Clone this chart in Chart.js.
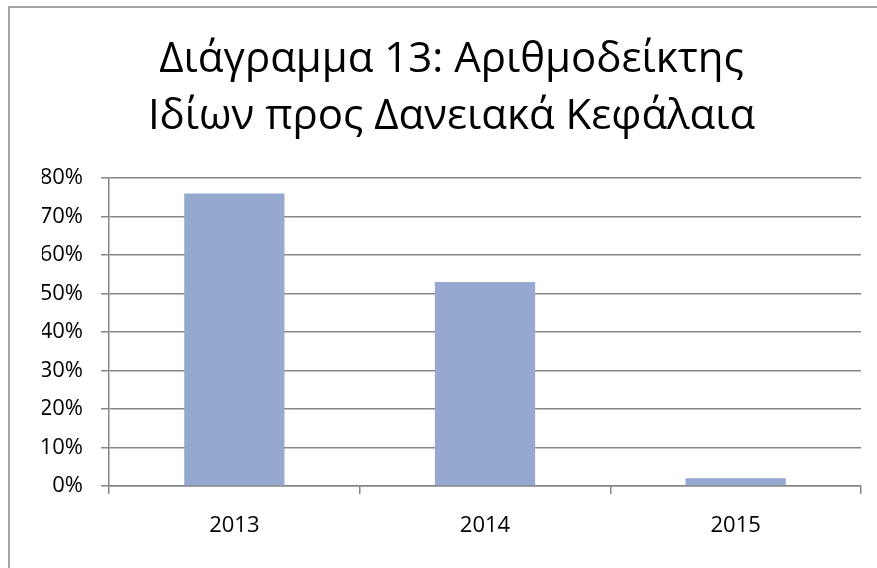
<!DOCTYPE html>
<html>
<head>
<meta charset="utf-8">
<script src="https://cdn.jsdelivr.net/npm/chart.js@4"></script>
<style>
  body { margin: 0; background: #fff; }
  #wrap { width: 877px; height: 568px; }
</style>
</head>
<body>
<div id="wrap"><canvas id="chart" width="877" height="568"></canvas></div>
<script>
const years = ['2013', '2014', '2015'];
const ratio = [76, 53, 2];
const titleLines = ['Διάγραμμα 13: Αριθμοδείκτης', 'Ιδίων προς Δανειακά Κεφάλαια'];

const FONT = "'Open Sans', 'DejaVu Sans', sans-serif";

// grey frame around the chart (only left and top edges fall inside the picture)
const frame = {
  id: 'frame',
  beforeDraw(chart) {
    const ctx = chart.ctx;
    ctx.save();
    ctx.fillStyle = '#fff';
    ctx.fillRect(0, 0, chart.width, chart.height);
    ctx.strokeStyle = '#868686';
    ctx.lineWidth = 1.5;
    ctx.strokeRect(9, 7, chart.width + 50, chart.height + 50);
    ctx.restore();
  }
};

new Chart(document.getElementById('chart'), {
  type: 'bar',
  data: {
    labels: years,
    datasets: [{
      data: ratio,
      backgroundColor: '#95a9d0',
      barPercentage: 0.4,
      categoryPercentage: 1
    }]
  },
  options: {
    responsive: false,
    animation: false,
    layout: { padding: { top: 0, right: 16, bottom: 0, left: 42 } },
    plugins: {
      legend: { display: false },
      tooltip: { enabled: false },
      title: {
        display: true,
        text: titleLines,
        color: '#000',
        font: { family: FONT, size: 42, weight: 'normal', lineHeight: 1.357 },
        padding: { top: 32, bottom: 32 }
      }
    },
    scales: {
      x: {
        grid: {
          offset: true,
          drawOnChartArea: false,
          drawTicks: true,
          tickLength: 8,
          color: '#868686',
          lineWidth: 1.5
        },
        border: { color: '#868686', width: 1.5 },
        ticks: { color: '#000', font: { family: FONT, size: 22 }, padding: 19 },
        afterFit(scale) { scale.height = 82; }
      },
      y: {
        min: 0,
        max: 80,
        grid: { color: '#868686', lineWidth: 1.5, tickLength: 8 },
        border: { color: '#868686', width: 1.5 },
        ticks: {
          stepSize: 10,
          color: '#000',
          font: { family: FONT, size: 22 },
          padding: 18,
          callback: v => v + '%'
        },
        afterFit(scale) { scale.width = 67; }
      }
    }
  },
  plugins: [frame]
});
</script>
</body>
</html>
